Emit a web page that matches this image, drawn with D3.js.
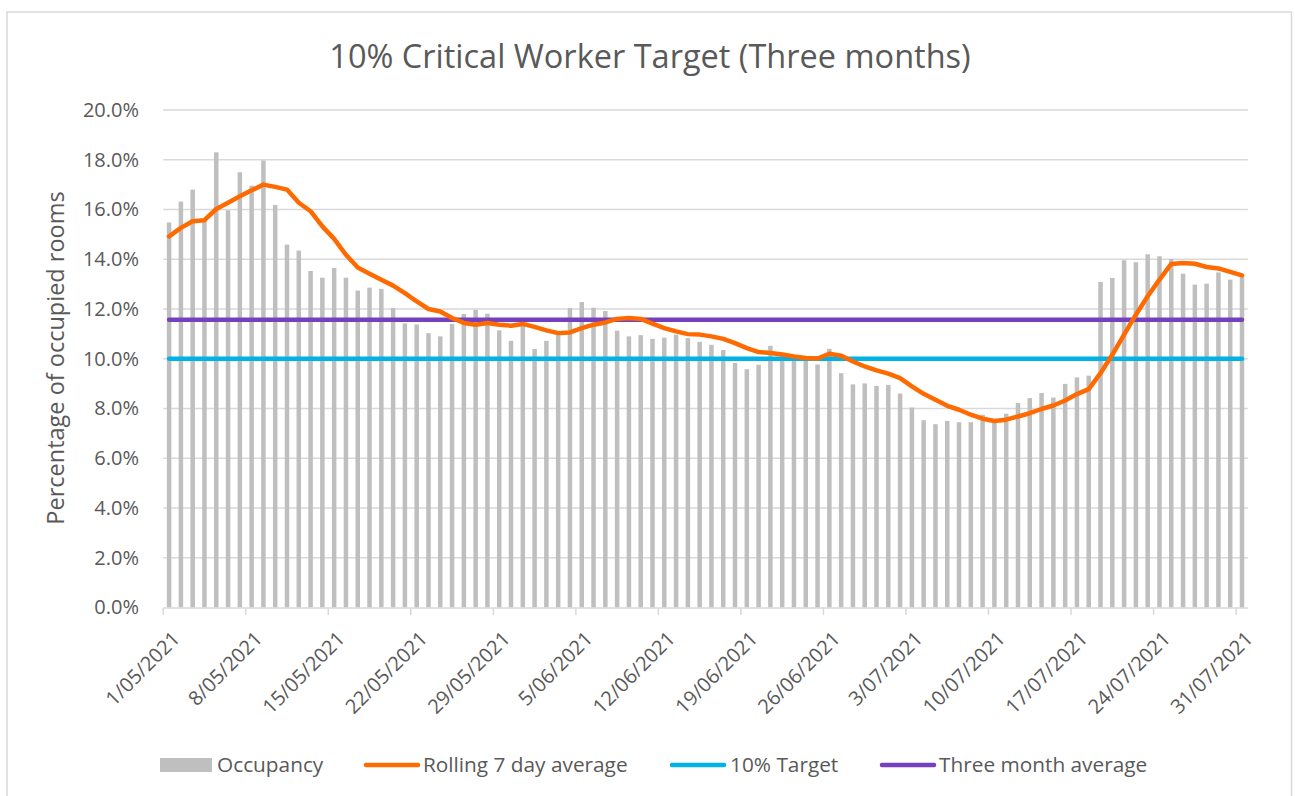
<!DOCTYPE html>
<html>
<head>
<meta charset="utf-8">
<script src="https://cdn.jsdelivr.net/npm/d3@7"></script>
<style>
  body { margin: 0; background: #fff; }
  svg { display: block; }
  text { font-family: "Open Sans", sans-serif; fill: #595959; }
</style>
</head>
<body>
<svg id="chart"></svg>
<script>
// daily occupancy, % of rooms (1 May - 31 Jul 2021)
const occupancy = [
  15.48, 16.32, 16.80, 15.60, 18.30, 15.97, 17.50, 16.96, 17.97, 16.18,
  14.59, 14.35, 13.53, 13.26, 13.65, 13.26, 12.74, 12.86, 12.81, 12.04,
  11.42, 11.38, 11.03, 10.90, 11.40, 11.80, 11.97, 11.81, 11.14, 10.72,
  11.40, 10.39, 10.72, 11.10, 12.04, 12.28, 12.05, 11.92, 11.13, 10.90,
  10.95, 10.80, 10.85, 10.97, 10.83, 10.68, 10.56, 10.35, 9.83, 9.58,
  9.76, 10.52, 10.25, 10.12, 10.09, 9.77, 10.40, 9.42, 8.97, 9.01,
  8.91, 8.95, 8.60, 8.04, 7.53, 7.37, 7.50, 7.45, 7.45, 7.75,
  7.55, 7.79, 8.22, 8.42, 8.62, 8.44, 8.99, 9.25, 9.32, 13.09,
  13.25, 13.96, 13.88, 14.20, 14.12, 14.01, 13.42, 12.98, 13.02, 13.47,
  13.18, 13.30
];

const rolling = [
  14.92, 15.26, 15.53, 15.57, 16.02, 16.27, 16.53, 16.77, 17.00, 16.91,
  16.80, 16.27, 15.93, 15.32, 14.82, 14.18, 13.67, 13.42, 13.18, 12.94,
  12.64, 12.31, 12.00, 11.90, 11.64, 11.44, 11.37, 11.44, 11.37, 11.33,
  11.40, 11.28, 11.14, 11.03, 11.06, 11.23, 11.37, 11.46, 11.60, 11.64,
  11.60, 11.41, 11.23, 11.10, 10.99, 10.97, 10.90, 10.80, 10.63, 10.43,
  10.27, 10.23, 10.17, 10.09, 10.03, 10.01, 10.20, 10.12, 9.89, 9.69,
  9.53, 9.40, 9.22, 8.89, 8.59, 8.35, 8.11, 7.95, 7.75, 7.59,
  7.50, 7.55, 7.68, 7.81, 7.98, 8.12, 8.32, 8.58, 8.78, 9.42,
  10.16, 10.97, 11.77, 12.51, 13.18, 13.81, 13.85, 13.82, 13.69, 13.63,
  13.49, 13.35
];

const target = 10;
const threeMonthAvg = 11.57;

const tickLabels = ["1/05/2021", "8/05/2021", "15/05/2021", "22/05/2021", "29/05/2021",
  "5/06/2021", "12/06/2021", "19/06/2021", "26/06/2021", "3/07/2021",
  "10/07/2021", "17/07/2021", "24/07/2021", "31/07/2021"];

const yTicks = [0, 2, 4, 6, 8, 10, 12, 14, 16, 18, 20];

const seriesNames = ["Occupancy", "Rolling 7 day average", "10% Target", "Three month average"];

// one category per day
const fmt = d3.timeFormat("%-d/%m/%Y");
const days = d3.timeDay.range(new Date(2021, 4, 1), new Date(2021, 7, 1)).map(fmt);

const width = 1295, height = 796;
const grid = "#d9d9d9";
const colors = { bar: "#bfbfbf", rolling: "#ff6a00", target: "#00b2e6", avg: "#7440be" };

const svg = d3.select("#chart").attr("width", width).attr("height", height);

// chart frame
svg.append("rect")
  .attr("x", 7).attr("y", 12)
  .attr("width", 1284.5).attr("height", 800)
  .attr("fill", "none").attr("stroke", grid).attr("stroke-width", 1.5);

const x = d3.scaleBand().domain(days).range([163.2, 1247.9]);
const y = d3.scaleLinear().domain([0, 20]).range([607.5, 110]);
const cx = d => x(d) + x.bandwidth() / 2;

// gridlines
svg.append("g")
  .selectAll("line")
  .data(yTicks.filter(t => t > 0))
  .join("line")
  .attr("x1", 163.2).attr("x2", 1247.9)
  .attr("y1", d => y(d)).attr("y2", d => y(d))
  .attr("stroke", grid).attr("stroke-width", 1.5);

// y labels
const yAxis = svg.append("g")
  .attr("transform", "translate(139,0)")
  .call(d3.axisLeft(y).tickValues(yTicks).tickSize(0).tickPadding(0)
    .tickFormat(d => d.toFixed(1) + "%"));
yAxis.select(".domain").remove();
yAxis.selectAll("text")
  .style("font-family", "Open Sans").style("font-size", "20px").attr("fill", "#595959");

// bars
svg.append("g")
  .selectAll("rect")
  .data(occupancy)
  .join("rect")
  .attr("x", (d, i) => cx(days[i]) - 2.25)
  .attr("width", 4.5)
  .attr("y", d => y(d))
  .attr("height", d => y(0) - y(d))
  .attr("fill", colors.bar);

// x axis line + ticks
svg.append("line")
  .attr("x1", 163.2).attr("x2", 1247.9)
  .attr("y1", 608).attr("y2", 608)
  .attr("stroke", grid).attr("stroke-width", 1.5);

svg.append("g")
  .selectAll("line")
  .data(tickLabels)
  .join("line")
  .attr("x1", d => x(d)).attr("x2", d => x(d))
  .attr("y1", 608).attr("y2", 615)
  .attr("stroke", grid).attr("stroke-width", 1.5);

svg.append("g")
  .selectAll("text")
  .data(tickLabels)
  .join("text")
  .attr("transform", d => `translate(${cx(d) + 12},640) rotate(-45)`)
  .attr("text-anchor", "end")
  .style("font-size", "20px")
  .text(d => d);

// lines
const line = d3.line().x((d, i) => cx(days[i])).y(d => y(d));

svg.append("path")
  .datum(days.map(() => target))
  .attr("d", line)
  .attr("fill", "none").attr("stroke", colors.target)
  .attr("stroke-width", 4.5).attr("stroke-linecap", "round");

svg.append("path")
  .datum(days.map(() => threeMonthAvg))
  .attr("d", line)
  .attr("fill", "none").attr("stroke", colors.avg)
  .attr("stroke-width", 4.5).attr("stroke-linecap", "round");

svg.append("path")
  .datum(rolling)
  .attr("d", line)
  .attr("fill", "none").attr("stroke", colors.rolling)
  .attr("stroke-width", 4.5).attr("stroke-linecap", "round").attr("stroke-linejoin", "round");

// title
svg.append("text")
  .attr("x", 650).attr("y", 68)
  .attr("text-anchor", "middle")
  .style("font-size", "32.5px")
  .text("10% Critical Worker Target (Three months)");

// y axis title
svg.append("text")
  .attr("transform", "translate(64,358) rotate(-90)")
  .attr("text-anchor", "middle")
  .style("font-size", "23.5px")
  .text("Percentage of occupied rooms");

// legend
const legend = svg.append("g");
legend.append("rect")
  .attr("x", 160).attr("y", 758).attr("width", 52).attr("height", 14)
  .attr("fill", colors.bar);
legend.append("text").attr("x", 217).attr("y", 772).style("font-size", "20.8px").text(seriesNames[0]);

const legendLines = [
  { x1: 366, x2: 418, color: colors.rolling, tx: 423, name: seriesNames[1] },
  { x1: 672, x2: 724, color: colors.target, tx: 730, name: seriesNames[2] },
  { x1: 882, x2: 934, color: colors.avg, tx: 939, name: seriesNames[3] }
];
legendLines.forEach(l => {
  legend.append("line")
    .attr("x1", l.x1).attr("x2", l.x2).attr("y1", 765).attr("y2", 765)
    .attr("stroke", l.color).attr("stroke-width", 4.5).attr("stroke-linecap", "round");
  legend.append("text").attr("x", l.tx).attr("y", 772).style("font-size", "20.8px").text(l.name);
});
</script>
</body>
</html>
